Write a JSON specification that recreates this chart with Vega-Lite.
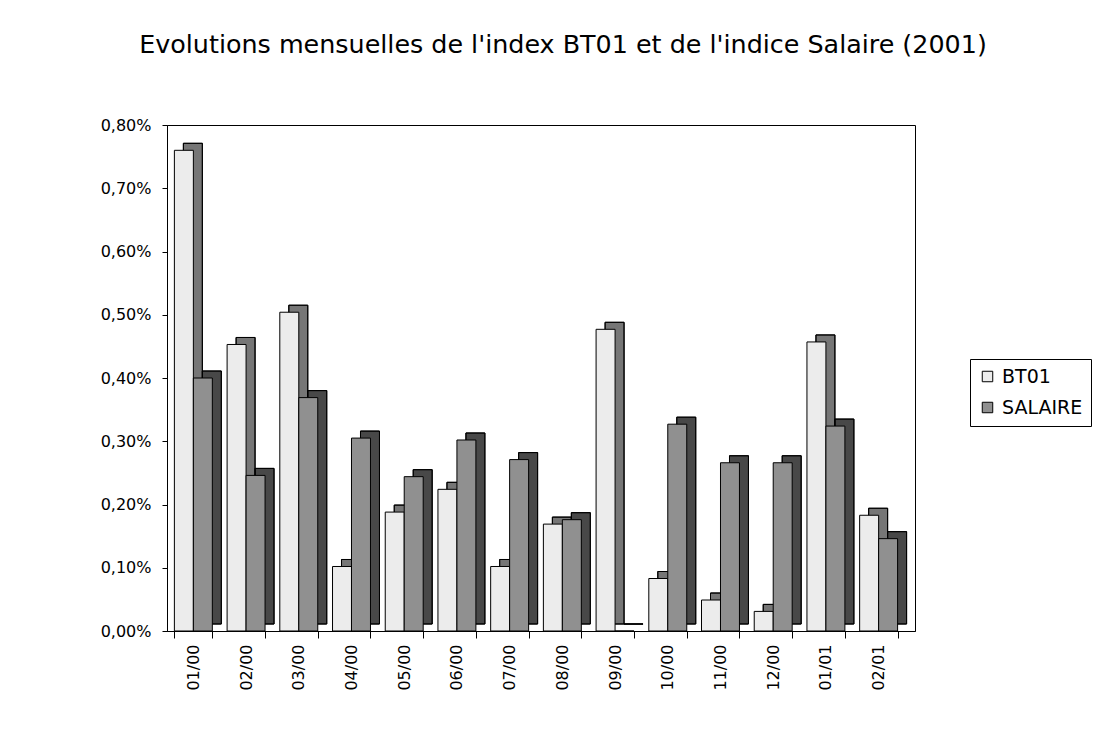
{
  "$schema": "https://vega.github.io/schema/vega-lite/v6.json",
  "autosize": {"type": "none"},
  "width": 748,
  "height": 506,
  "padding": {"left": 167, "top": 125, "right": 195, "bottom": 124},
  "background": "white",
  "title": {
    "text": "Evolutions mensuelles de l'index BT01 et de l'indice Salaire (2001)",
    "font": "DejaVu Sans",
    "fontSize": 25.4,
    "fontWeight": "normal",
    "color": "black",
    "anchor": "middle",
    "frame": "group",
    "dx": 22,
    "offset": 59
  },
  "data": {
    "values": [
      {"month": "01/00", "series": "BT01", "value": 0.0076},
      {"month": "01/00", "series": "SALAIRE", "value": 0.0040},
      {"month": "02/00", "series": "BT01", "value": 0.00453},
      {"month": "02/00", "series": "SALAIRE", "value": 0.00246},
      {"month": "03/00", "series": "BT01", "value": 0.00504},
      {"month": "03/00", "series": "SALAIRE", "value": 0.00369},
      {"month": "04/00", "series": "BT01", "value": 0.00102},
      {"month": "04/00", "series": "SALAIRE", "value": 0.00305},
      {"month": "05/00", "series": "BT01", "value": 0.00188},
      {"month": "05/00", "series": "SALAIRE", "value": 0.00244},
      {"month": "06/00", "series": "BT01", "value": 0.00224},
      {"month": "06/00", "series": "SALAIRE", "value": 0.00302},
      {"month": "07/00", "series": "BT01", "value": 0.00102},
      {"month": "07/00", "series": "SALAIRE", "value": 0.00271},
      {"month": "08/00", "series": "BT01", "value": 0.00169},
      {"month": "08/00", "series": "SALAIRE", "value": 0.00176},
      {"month": "09/00", "series": "BT01", "value": 0.00477},
      {"month": "09/00", "series": "SALAIRE", "value": 0},
      {"month": "10/00", "series": "BT01", "value": 0.00083},
      {"month": "10/00", "series": "SALAIRE", "value": 0.00327},
      {"month": "11/00", "series": "BT01", "value": 0.00049},
      {"month": "11/00", "series": "SALAIRE", "value": 0.00266},
      {"month": "12/00", "series": "BT01", "value": 0.00031},
      {"month": "12/00", "series": "SALAIRE", "value": 0.00266},
      {"month": "01/01", "series": "BT01", "value": 0.00457},
      {"month": "01/01", "series": "SALAIRE", "value": 0.00324},
      {"month": "02/01", "series": "BT01", "value": 0.00183},
      {"month": "02/01", "series": "SALAIRE", "value": 0.00146}
    ]
  },
  "encoding": {
    "x": {
      "field": "month",
      "type": "ordinal",
      "sort": null,
      "scale": {"paddingInner": 0.28, "paddingOuter": 0.235, "align": 0.298},
      "axis": {
        "title": null,
        "labelAngle": -90,
        "labelFont": "DejaVu Sans",
        "labelFontSize": 16,
        "labelColor": "black",
        "labelPadding": 6,
        "tickBand": "extent",
        "tickColor": "black",
        "tickSize": 7,
        "domainColor": "black"
      }
    },
    "y": {
      "field": "value",
      "type": "quantitative",
      "scale": {"domain": [0, 0.008], "nice": false},
      "axis": {
        "title": null,
        "values": [0, 0.001, 0.002, 0.003, 0.004, 0.005, 0.006, 0.007, 0.008],
        "labelExpr": "replace(format(datum.value, '.2%'), '.', ',')",
        "labelFont": "DejaVu Sans",
        "labelFontSize": 16,
        "labelColor": "black",
        "labelPadding": 11,
        "tickColor": "black",
        "tickSize": 5,
        "domainColor": "black",
        "grid": false
      }
    },
    "color": {
      "field": "series",
      "type": "nominal",
      "scale": {"domain": ["BT01", "SALAIRE"], "range": ["#ececec", "#909090"]},
      "legend": {
        "title": null,
        "orient": "none",
        "legendX": 803,
        "legendY": 234,
        "direction": "vertical",
        "strokeColor": "black",
        "fillColor": "white",
        "padding": 8,
        "symbolType": "square",
        "symbolSize": 110,
        "symbolStrokeColor": "black",
        "symbolStrokeWidth": 1,
        "labelFont": "DejaVu Sans",
        "labelFontSize": 19,
        "labelColor": "black",
        "rowPadding": 11,
        "labelOffset": 5
      }
    }
  },
  "layer": [
    {
      "encoding": {
        "xOffset": {"field": "series", "type": "nominal", "sort": ["BT01", "SALAIRE"], "scale": {"range": [9, 46.95]}}
      },
      "layer": [
        {"mark": {"type": "bar", "yOffset": -7, "stroke": "black", "strokeWidth": 1}},
        {"mark": {"type": "bar", "yOffset": -7, "fill": "black", "fillOpacity": 0.5, "stroke": "black", "strokeWidth": 1}}
      ]
    },
    {
      "encoding": {
        "xOffset": {"field": "series", "type": "nominal", "sort": ["BT01", "SALAIRE"]}
      },
      "mark": {"type": "bar", "stroke": "black", "strokeWidth": 1}
    }
  ],
  "resolve": {"scale": {"xOffset": "independent"}},
  "config": {
    "view": {"stroke": "black", "strokeWidth": 1}
  }
}
